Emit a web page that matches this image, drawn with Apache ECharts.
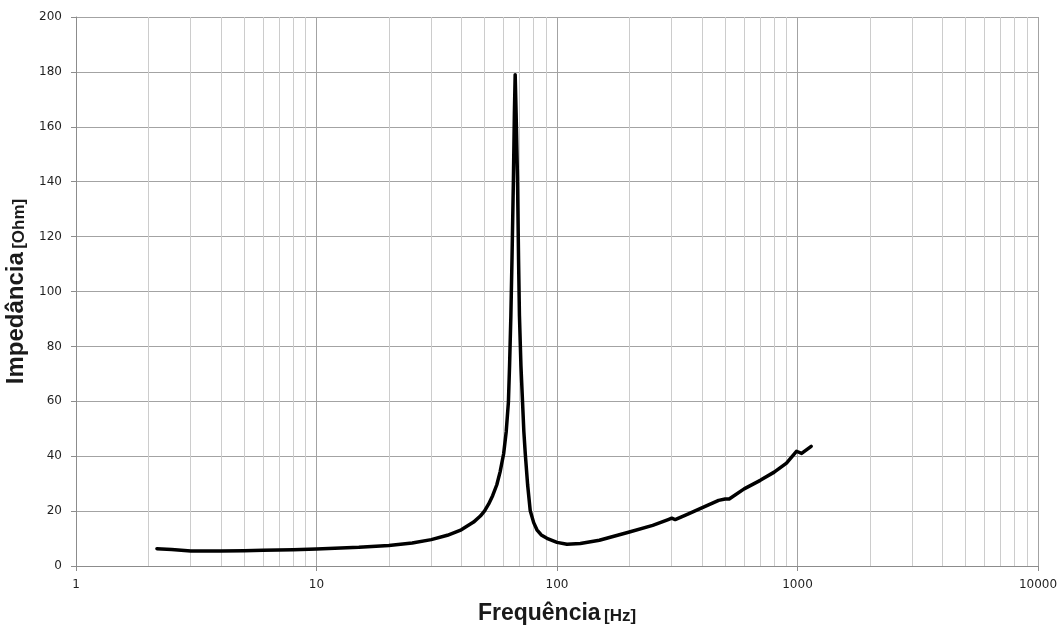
<!DOCTYPE html>
<html>
<head>
<meta charset="utf-8">
<script src="https://cdn.jsdelivr.net/npm/echarts@6/dist/echarts.min.js"></script>
<style>html,body{margin:0;padding:0;background:#fff}#c{width:1062px;height:628px}</style>
</head>
<body>
<div id="c"></div>
<script>
// Frequency (Hz) and impedance (Ohm)
const freqs = [2.17, 2.5, 3, 4, 5, 6, 8, 10, 15, 20, 25, 30, 35, 40, 45, 48, 50, 52, 54, 56.2, 58, 60, 61.5, 62.8, 63.5, 64.3, 65, 65.9, 66.5, 67.0, 67.6, 68.5, 69.2, 69.8, 70.8, 71.9, 72.8, 73.8, 75.5, 77.4, 80, 82.5, 86, 90.8, 100, 110, 125, 150, 200, 250, 290, 300, 310, 350, 400, 470, 500, 520, 600, 700, 800, 900, 990, 1040, 1140];
const impedance = [6.3, 6.0, 5.5, 5.5, 5.6, 5.7, 5.9, 6.2, 6.8, 7.5, 8.4, 9.6, 11.2, 13.2, 16.0, 18.2, 20.1, 22.6, 25.6, 29.6, 34.3, 40.9, 49, 59.7, 73, 91.2, 112, 141.5, 165, 179, 165, 141.5, 112, 91.2, 73, 59.7, 49, 40.9, 29.5, 20.1, 15.8, 13.2, 11.3, 10.1, 8.6, 7.9, 8.2, 9.4, 12.4, 14.8, 16.9, 17.4, 16.9, 18.9, 21.2, 23.9, 24.4, 24.4, 28.1, 31.2, 34.2, 37.5, 41.8, 41.0, 43.6];
const minorFreqs = [2,3,4,5,6,7,8,9,20,30,40,50,60,70,80,90,200,300,400,500,600,700,800,900,2000,3000,4000,5000,6000,7000,8000,9000];
const yTicks = [0, 20, 40, 60, 80, 100, 120, 140, 160, 180, 200];
const xTicks = [1, 10, 100, 1000, 10000];

const chart = echarts.init(document.getElementById('c'), null, {renderer: 'canvas'});
const curve = freqs.map((f, i) => [f, impedance[i]]);
const titleFont = "'Liberation Sans Narrow', 'Liberation Sans', sans-serif";

chart.setOption({
  animation: false,
  backgroundColor: '#ffffff',
  grid: {left: 76, right: 24, top: 17, bottom: 62, containLabel: false, outerBoundsMode: 'none'},
  xAxis: {
    type: 'log', logBase: 10, min: xTicks[0], max: xTicks[xTicks.length - 1],
    name: '{a|Frequência} {b|[Hz]}',
    nameLocation: 'middle', nameGap: 36,
    nameTextStyle: {
      rich: {
        a: {fontFamily: titleFont, fontSize: 23, fontWeight: 'bold', color: '#1a1a1a'},
        b: {fontFamily: titleFont, fontSize: 17, fontWeight: 'bold', color: '#1a1a1a', padding: [6, 0, 0, 0]}
      }
    },
    axisLine: {show: true, lineStyle: {color: '#8c8c8c', width: 1}},
    axisTick: {show: true, length: 5, lineStyle: {color: '#8c8c8c'}},
    axisLabel: {fontFamily: 'DejaVu Sans', fontSize: 12, color: '#1f1f1f', margin: 13,
      formatter: v => String(Math.round(v))},
    splitLine: {show: true, lineStyle: {color: '#a3a3a3', width: 1}}
  },
  yAxis: {
    type: 'value', min: yTicks[0], max: yTicks[yTicks.length - 1], interval: 20,
    name: '{a|Impedância} {b|[Ohm]}',
    nameLocation: 'middle', nameGap: 47, nameRotate: 90,
    nameTextStyle: {
      rich: {
        a: {fontFamily: titleFont, fontSize: 24, fontWeight: 'bold', color: '#1a1a1a'},
        b: {fontFamily: titleFont, fontSize: 17, fontWeight: 'bold', color: '#1a1a1a', padding: [6, 0, 0, 0]}
      }
    },
    axisLine: {show: true, lineStyle: {color: '#8c8c8c', width: 1}},
    axisTick: {show: true, length: 5, lineStyle: {color: '#8c8c8c'}},
    axisLabel: {fontFamily: 'DejaVu Sans', fontSize: 12, color: '#1f1f1f', margin: 14},
    splitLine: {show: true, lineStyle: {color: '#a3a3a3', width: 1}}
  },
  series: [
    {
      type: 'line', data: [], silent: true, z: 1,
      markLine: {
        silent: true, symbol: 'none', animation: false,
        label: {show: false},
        lineStyle: {color: '#cccccc', width: 1, type: 'solid'},
        data: minorFreqs.map(f => ({xAxis: f}))
      }
    },
    {
      type: 'line', data: curve, z: 5,
      smooth: false,
      showSymbol: false, symbol: 'none',
      lineStyle: {color: '#000000', width: 3.5, join: 'round', cap: 'round'}
    }
  ]
});
</script>
</body>
</html>
